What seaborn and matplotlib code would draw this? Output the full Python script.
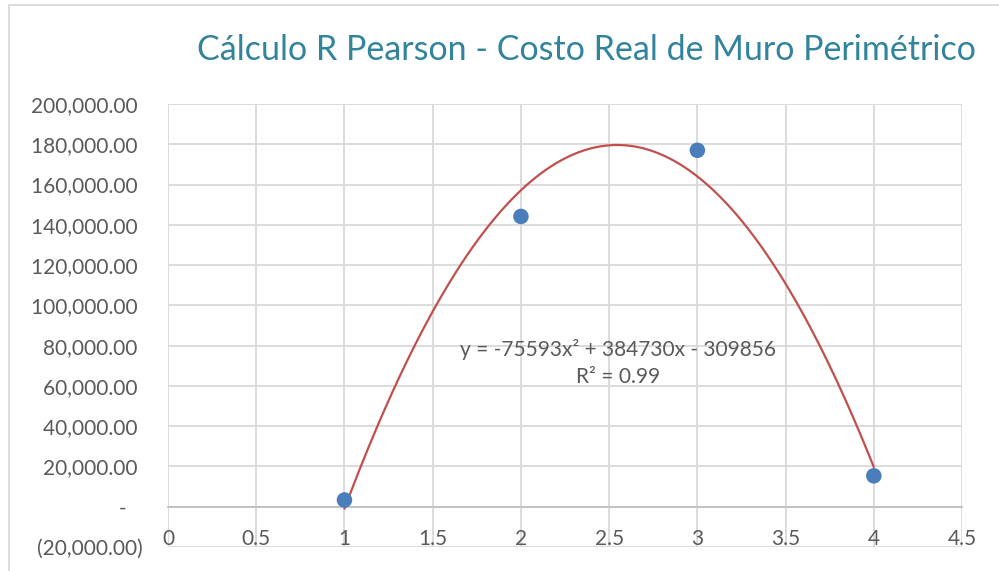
import numpy as np
import pandas as pd
import seaborn as sns
import matplotlib.pyplot as plt
from matplotlib.patches import Rectangle

# datos
periodo = [1, 2, 3, 4]
costo_real = [3350, 144150, 177000, 15350]
ecuacion = 'y = -75593x² + 384730x - 309856'
r2_texto = 'R² = 0.99'
titulo = 'Cálculo R Pearson - Costo Real de Muro Perimétrico'

df = pd.DataFrame({'x': periodo, 'y': costo_real})

# linea de tendencia polinomica de orden 2 (como en Excel)
coef = np.polyfit(df['x'], df['y'], 2)
xs = np.linspace(min(periodo), max(periodo), 200)
df_trend = pd.DataFrame({'x': xs, 'y': np.polyval(coef, xs)})

sns.set_style('white')
plt.rcParams['font.family'] = ['Lato', 'DejaVu Sans']

fig = plt.figure(figsize=(9.99, 5.71), dpi=100)
ax = fig.add_axes([0.1682, 0.042, 0.7948, 0.7759])

sns.lineplot(data=df_trend, x='x', y='y', color='#C0504D', linewidth=1.6, ax=ax, zorder=3)
sns.scatterplot(data=df, x='x', y='y', color='#4A7EBB', s=125, edgecolor='none', ax=ax, zorder=4)

ax.set_xlim(0, 4.5)
ax.set_ylim(-20000, 200000)
ax.set_xticks(np.arange(0, 4.51, 0.5))
ax.set_yticks(np.arange(-20000, 200001, 20000))
ax.set_xticklabels(['0', '0.5', '1', '1.5', '2', '2.5', '3', '3.5', '4', '4.5'])


def fmt(v):
    if v > 0:
        return f'{v:,.2f} '
    if v == 0:
        return '-   '
    return f'({-v:,.2f})'


ax.set_yticklabels([fmt(v) for v in ax.get_yticks()])
ax.set_xlabel('')
ax.set_ylabel('')

ax.grid(True, color='#D9D9D9', linewidth=1.3)
ax.set_axisbelow(True)
for s in ['top', 'right', 'left']:
    ax.spines[s].set_visible(False)
ax.spines['bottom'].set_position(('data', 0))
ax.spines['bottom'].set_color('#BFBFBF')
ax.spines['bottom'].set_linewidth(1.3)
ax.spines['bottom'].set_zorder(1)

ax.tick_params(axis='both', length=0, labelsize=15, labelcolor='#595959')
ax.tick_params(axis='x', pad=16)
ax.tick_params(axis='y', pad=18)

ax.text(2.55, 71500, ecuacion + '\n' + r2_texto, ha='center', va='center',
        fontsize=15, color='#595959', linespacing=1.45, zorder=5)

fig.text(0.587, 0.913, titulo, ha='center', va='center', fontsize=24.5, color='#31849B')

# borde del area del grafico
fig.patches.append(Rectangle((0.009, -0.01), 1.1, 1.002, transform=fig.transFigure,
                             fill=False, edgecolor='#D9D9D9', linewidth=1.3))

fig.savefig('out.png', dpi=100)
